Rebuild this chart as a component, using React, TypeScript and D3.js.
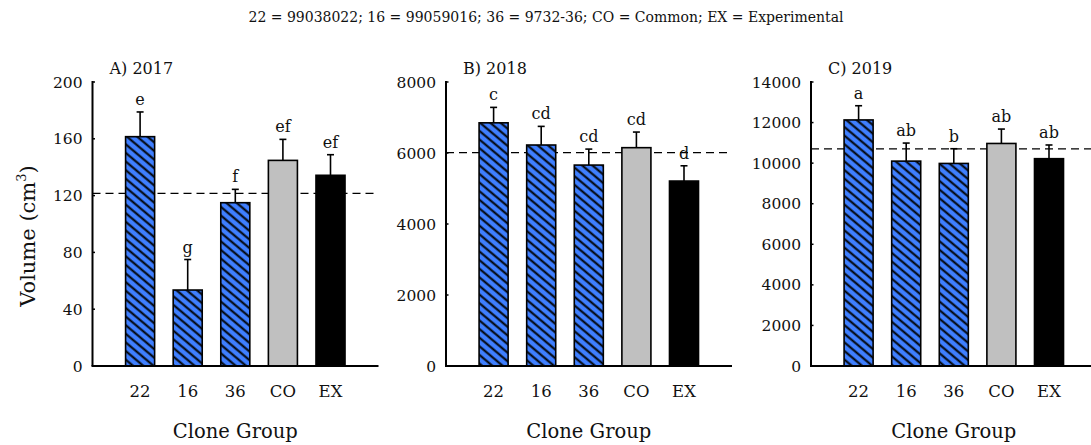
import React from "react";
import * as d3 from "d3";

// Clone groups shown on every panel
const groups = ["22", "16", "36", "CO", "EX"];

// 2017 volumes (cm³), upper standard error and significance letters
const vol2017 = [161.5, 53.5, 115, 144.8, 134.3];
const se2017 = [17.4, 21.5, 9.4, 14.8, 14.5];
const letters2017 = ["e", "g", "f", "ef", "ef"];
const mean2017 = 121.6;
const ticks2017 = [0, 40, 80, 120, 160, 200];

// 2018
const vol2018 = [6850, 6225, 5660, 6150, 5210];
const se2018 = [435, 525, 450, 440, 430];
const letters2018 = ["c", "cd", "cd", "cd", "d"];
const mean2018 = 6010;
const ticks2018 = [0, 2000, 4000, 6000, 8000];

// 2019
const vol2019 = [12130, 10100, 9985, 10970, 10220];
const se2019 = [700, 890, 725, 710, 675];
const letters2019 = ["a", "ab", "b", "ab", "ab"];
const mean2019 = 10700;
const ticks2019 = [0, 2000, 4000, 6000, 8000, 10000, 12000, 14000];

const panelTitles = ["A) 2017", "B) 2018", "C) 2019"];
const note = "22 = 99038022; 16 = 99059016; 36 = 9732-36; CO = Common; EX = Experimental";

const FONT = "'DejaVu Serif', serif";
const BLUE = "#3f7fff";
const GREY = "#c0c0c0";

const panels = [
  { title: panelTitles[0], vals: vol2017, se: se2017, letters: letters2017, mean: mean2017, ticks: ticks2017, x0: 92.5 },
  { title: panelTitles[1], vals: vol2018, se: se2018, letters: letters2018, mean: mean2018, ticks: ticks2018, x0: 446 },
  { title: panelTitles[2], vals: vol2019, se: se2019, letters: letters2019, mean: mean2019, ticks: ticks2019, x0: 811 },
];

const TOP = 82;
const BOTTOM = 366;
const STEP = 47.6;
const AXIS_LEN = 286;

function Panel({ p, showYLabel }: { p: (typeof panels)[number]; showYLabel: boolean }) {
  const yMax = p.ticks[p.ticks.length - 1];
  const y = d3.scaleLinear().domain([0, yMax]).range([BOTTOM, TOP]);
  const x = d3
    .scaleBand<string>()
    .domain(groups)
    .range([p.x0 + STEP / 2, p.x0 + STEP * 5.5])
    .paddingInner(0.39)
    .paddingOuter(0.195);
  const bw = x.bandwidth();
  const xEnd = p.x0 + AXIS_LEN;

  return (
    <g>
      {/* mean reference line */}
      <line x1={p.x0} x2={xEnd} y1={y(p.mean)} y2={y(p.mean)} stroke="#000" strokeWidth={1.3} strokeDasharray="8,5" />

      {groups.map((g, i) => {
        const cx = (x(g) as number) + bw / 2;
        const top = y(p.vals[i]);
        const errTop = y(p.vals[i] + p.se[i]);
        const fill = g === "CO" ? GREY : g === "EX" ? "#000" : "url(#hatch)";
        return (
          <g key={g}>
            <line x1={cx} x2={cx} y1={top} y2={errTop} stroke="#000" strokeWidth={1.6} />
            <line x1={cx - 3.5} x2={cx + 3.5} y1={errTop} y2={errTop} stroke="#000" strokeWidth={1.6} />
            <rect x={x(g)} y={top} width={bw} height={BOTTOM - top} fill={fill} stroke="#000" strokeWidth={1.6} />
            <text x={cx} y={errTop - 7} textAnchor="middle" fontFamily={FONT} fontSize={16} fill="#111">
              {p.letters[i]}
            </text>
            <text x={cx} y={397} textAnchor="middle" fontFamily={FONT} fontSize={16.5} fill="#111">
              {g}
            </text>
          </g>
        );
      })}

      {/* axes */}
      <line x1={p.x0} x2={p.x0} y1={TOP - 1} y2={BOTTOM} stroke="#000" strokeWidth={2} />
      <line x1={p.x0 - 1} x2={xEnd} y1={BOTTOM} y2={BOTTOM} stroke="#000" strokeWidth={2} />
      {p.ticks.map((t) => (
        <g key={t}>
          <line x1={p.x0} x2={p.x0 + 2.5} y1={y(t)} y2={y(t)} stroke="#000" strokeWidth={1.5} />
          <text x={p.x0 - 10} y={y(t)} dy="0.36em" textAnchor="end" fontFamily={FONT} fontSize={15.5} fill="#111">
            {t}
          </text>
        </g>
      ))}

      <text x={p.x0 + 17} y={74} fontFamily={FONT} fontSize={16} fill="#111">
        {p.title}
      </text>
      <text x={(x("36") as number) + bw / 2} y={438} textAnchor="middle" fontFamily={FONT} fontSize={19.5} fill="#111">
        Clone Group
      </text>

      {showYLabel && (
        <text transform={`translate(35,236) rotate(-90)`} textAnchor="middle" fontFamily={FONT} fontSize={21} fill="#111">
          Volume (cm<tspan dy="-9" fontSize={13}>3</tspan>
          <tspan dy="9">)</tspan>
        </text>
      )}
    </g>
  );
}

export default function App() {
  return (
    <svg width={1091} height={445} style={{ position: "absolute", left: 0, top: 0, background: "#fff" }}>
      <defs>
        <pattern id="hatch" patternUnits="userSpaceOnUse" width={6.6} height={6.6} patternTransform="rotate(40)">
          <rect width={6.6} height={6.6} fill={BLUE} />
          <line x1={0} x2={6.6} y1={3.3} y2={3.3} stroke="#000" strokeWidth={2} />
        </pattern>
      </defs>
      <rect width={1091} height={445} fill="#fff" />
      <text x={546} y={22} textAnchor="middle" fontFamily={FONT} fontSize={14} fill="#111">
        {note}
      </text>
      {panels.map((p, i) => (
        <Panel key={p.title} p={p} showYLabel={i === 0} />
      ))}
    </svg>
  );
}
